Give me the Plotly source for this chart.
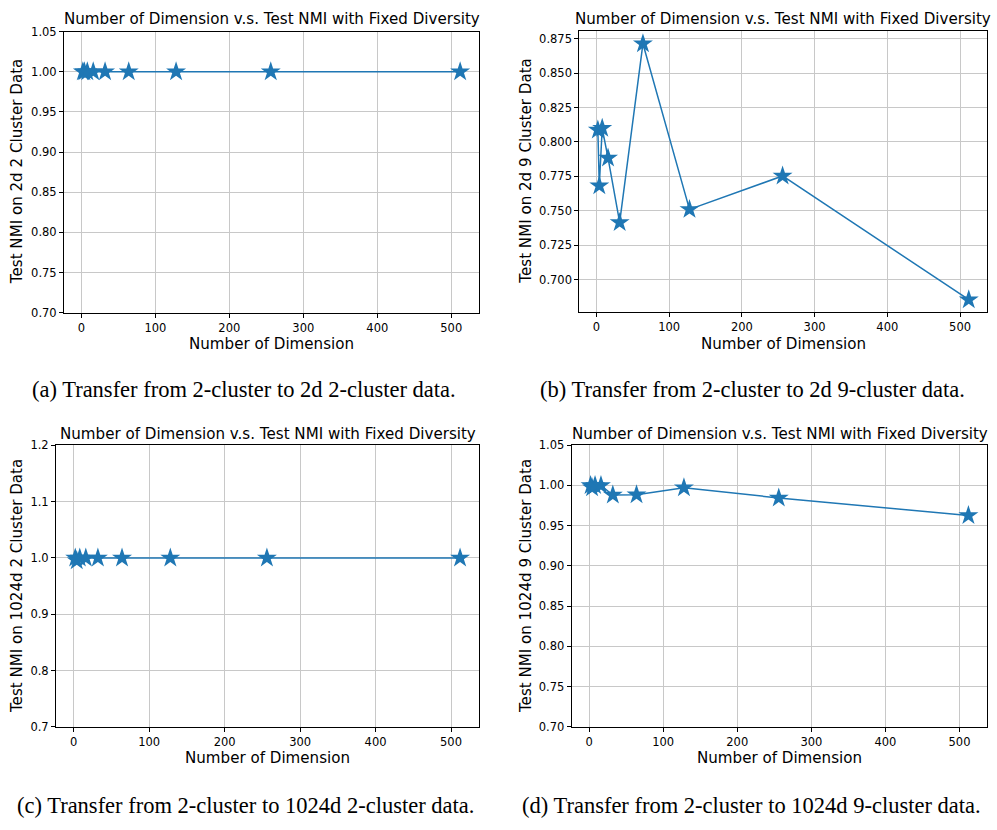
import plotly.graph_objects as go

dims = [2, 4, 8, 16, 32, 64, 128, 256, 512]
nmi_a = [1.0, 1.0, 1.0, 1.0, 1.0, 1.0, 1.0, 1.0, 1.0]
nmi_b = [0.8087, 0.7682, 0.8099, 0.7884, 0.7415, 0.8714, 0.7510, 0.7753, 0.6854]
nmi_c = [1.0, 0.995, 1.0, 1.0, 1.0, 1.0, 1.0, 1.0, 1.0]
nmi_d = [1.0, 0.997, 1.0, 1.0, 0.988, 0.9885, 0.997, 0.9845, 0.9626]

title_text = "Number of Dimension v.s. Test NMI with Fixed Diversity"
xlabel = "Number of Dimension"
ylabels = ["Test NMI on 2d 2 Cluster Data", "Test NMI on 2d 9 Cluster Data",
           "Test NMI on 1024d 2 Cluster Data", "Test NMI on 1024d 9 Cluster Data"]
captions = ["(a) Transfer from 2-cluster to 2d 2-cluster data.",
            "(b) Transfer from 2-cluster to 2d 9-cluster data.",
            "(c) Transfer from 2-cluster to 1024d 2-cluster data.",
            "(d) Transfer from 2-cluster to 1024d 9-cluster data."]

W, H = 997, 830
# plot-area boxes in pixels: left, right, top, bottom
boxes = [(64, 479, 25, 311), (579.3, 987.3, 24.3, 310.7),
         (56, 479.3, 445.7, 732.3), (571.7, 987.3, 445.7, 732.3)]
series = [nmi_a, nmi_b, nmi_c, nmi_d]
yranges = [(0.70, 1.05), None, (0.7, 1.2), (0.70, 1.05)]
ydticks = [0.05, 0.025, 0.1, 0.05]
yfmts = [".2f", ".3f", ".1f", ".2f"]
ylab_x = [17, 526, 17, 526]
xlab_y = [342.5, 342.5, 764, 764]
title_y = [12.7, 12.7, 434, 434]
cap_pos = [(244, 389), (752, 389), (245, 812), (751, 812)]

BLUE = "#1f77b4"
FONT = "DejaVu Sans"

fig = go.Figure()
annotations = []
xmin, xmax = min(dims), max(dims)
xpad = 0.05 * (xmax - xmin)

for i in range(4):
    l, r, t, b = boxes[i]
    n = i + 1
    xa = "x" if n == 1 else f"x{n}"
    ya = "y" if n == 1 else f"y{n}"
    fig.add_trace(go.Scatter(
        x=dims, y=series[i], mode="lines+markers", xaxis=xa, yaxis=ya,
        line=dict(color=BLUE, width=1.5),
        marker=dict(symbol="star", size=15, color=BLUE, line=dict(width=0)),
        showlegend=False))
    if yranges[i] is None:
        lo, hi = min(series[i]), max(series[i])
        pad = 0.05 * (hi - lo)
        yr = [lo - pad, hi + pad]
    else:
        yr = list(yranges[i])
    axcommon = dict(showline=True, linecolor="black", linewidth=1, mirror=True,
                    ticks="outside", ticklen=4, tickcolor="black",
                    showgrid=True, gridcolor="rgb(200,200,200)", gridwidth=1,
                    zeroline=False, tickfont=dict(family=FONT, size=11.5, color="black"))
    fig.layout[f"xaxis{'' if n == 1 else n}"] = dict(
        domain=[l / W, r / W], range=[xmin - xpad, xmax + xpad], anchor=ya,
        tick0=0, dtick=100, **axcommon)
    fig.layout[f"yaxis{'' if n == 1 else n}"] = dict(
        domain=[1 - b / H, 1 - t / H], range=yr, anchor=xa,
        tick0=0, dtick=ydticks[i], tickformat=yfmts[i], **axcommon)
    cx = (l + r) / 2
    annotations.append(dict(text=title_text, x=cx / W, y=1 - title_y[i] / H,
                            xref="paper", yref="paper", showarrow=False,
                            xanchor="center", yanchor="middle",
                            font=dict(family=FONT, size=15.1, color="black")))
    annotations.append(dict(text=xlabel, x=cx / W, y=1 - xlab_y[i] / H,
                            xref="paper", yref="paper", showarrow=False,
                            xanchor="center", yanchor="middle",
                            font=dict(family=FONT, size=15.1, color="black")))
    annotations.append(dict(text=ylabels[i], x=ylab_x[i] / W, y=1 - ((t + b) / 2) / H,
                            xref="paper", yref="paper", showarrow=False, textangle=-90,
                            xanchor="center", yanchor="middle",
                            font=dict(family=FONT, size=15.1, color="black")))
    annotations.append(dict(text=captions[i], x=cap_pos[i][0] / W, y=1 - cap_pos[i][1] / H,
                            xref="paper", yref="paper", showarrow=False,
                            xanchor="center", yanchor="middle",
                            font=dict(family="Liberation Serif", size=22.5, color="black")))

fig.update_layout(width=W, height=H, margin=dict(l=0, r=0, t=0, b=0),
                  paper_bgcolor="white", plot_bgcolor="white",
                  annotations=annotations)
fig.write_html("out.html")
